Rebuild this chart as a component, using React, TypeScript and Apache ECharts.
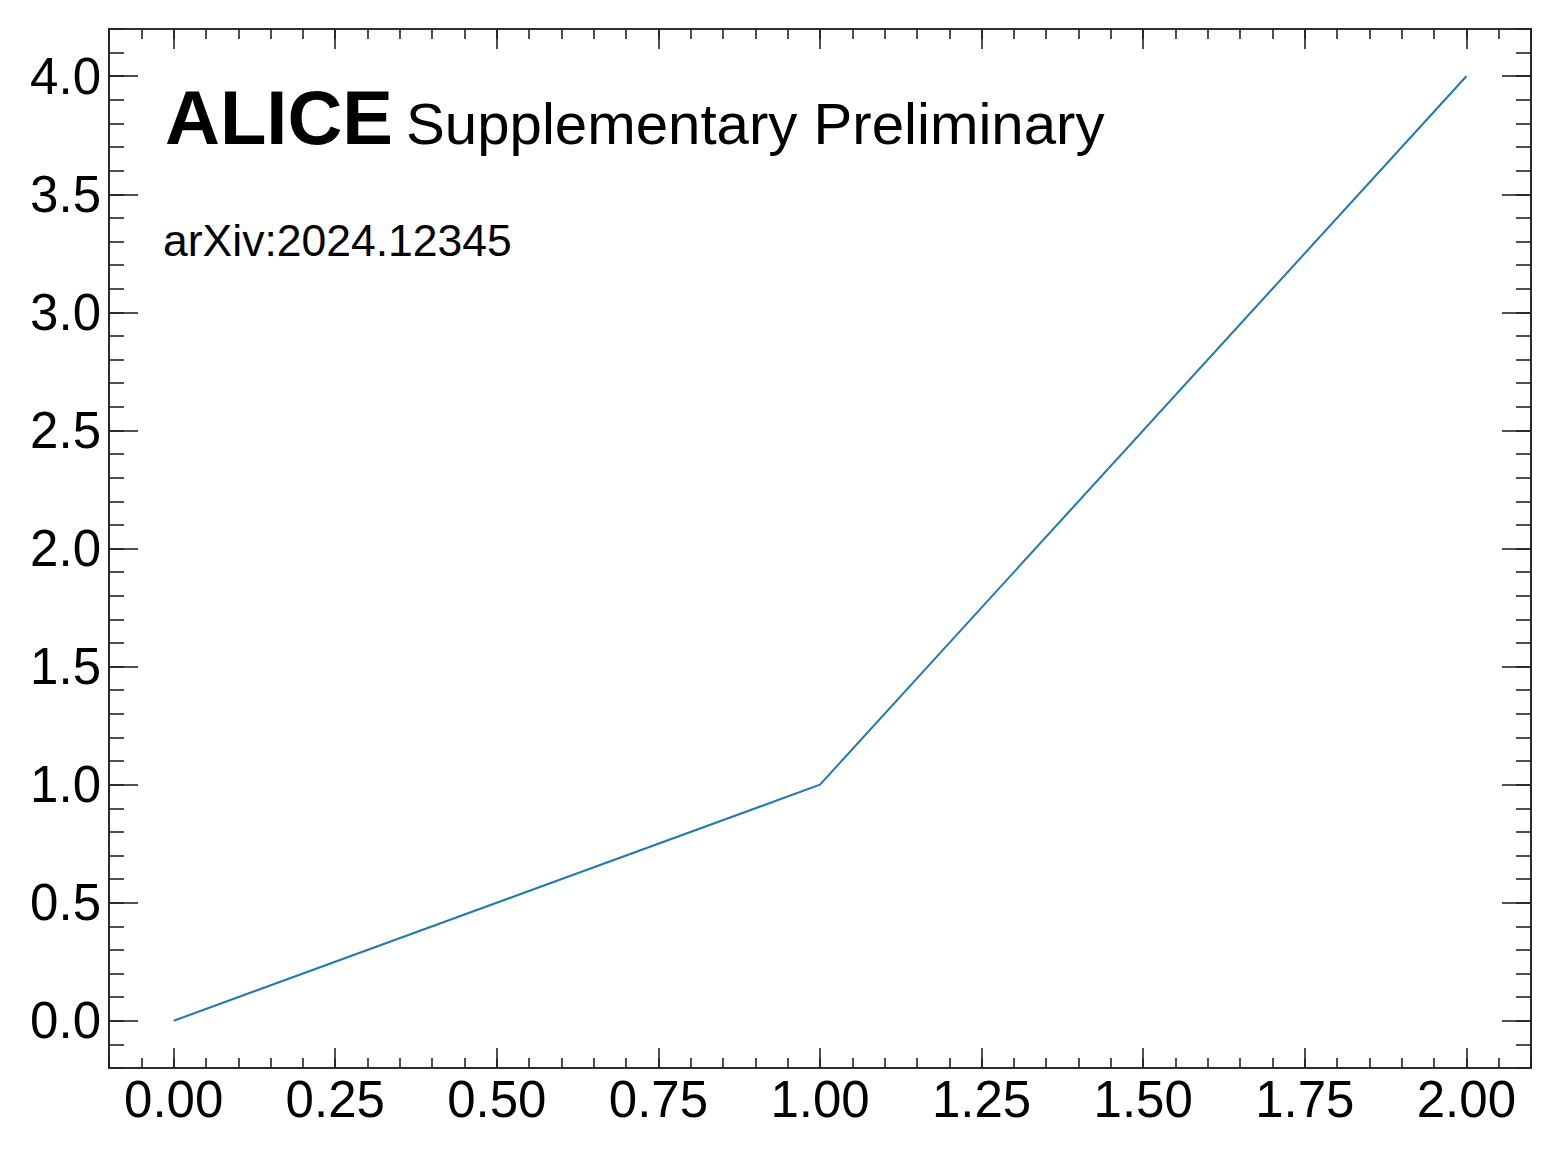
import React, { useEffect, useRef } from "react";
import * as echarts from "echarts";

const xValues = [0, 1, 2];
const yValues = [0, 1, 4];
const xMajorTicks = [0, 0.25, 0.5, 0.75, 1.0, 1.25, 1.5, 1.75, 2.0];
const yMajorTicks = [0, 0.5, 1.0, 1.5, 2.0, 2.5, 3.0, 3.5, 4.0];
const xRange = [-0.1, 2.1];
const yRange = [-0.2, 4.2];
const xMinorStep = 0.05;
const yMinorStep = 0.1;
const titleBold = "ALICE";
const titleRest = "Supplementary Preliminary";
const subtitle = "arXiv:2024.12345";

const FONT = "'Liberation Sans', Arial, Helvetica, sans-serif";
const AXIS_COLOR = "#222";

export default function App() {
  const ref = useRef<HTMLDivElement>(null);
  useEffect(() => {
    if (!ref.current) return;
    const chart = echarts.init(ref.current, undefined, { renderer: "svg" });
    const lineStyle = { color: AXIS_COLOR, width: 1.6 };
    const mkX = (pos: string, major: boolean, labels: boolean) => ({
      type: "value",
      min: xRange[0],
      max: xRange[1],
      position: pos,
      ...(major ? {} : { interval: xMinorStep }),
      axisLine: { show: true, onZero: false, lineStyle },
      axisTick: major
        ? { show: true, inside: true, length: 20, customValues: xMajorTicks, lineStyle }
        : { show: true, inside: true, length: 10, lineStyle },
      axisLabel: labels
        ? {
            show: true,
            customValues: xMajorTicks,
            formatter: (v: number) => v.toFixed(2),
            fontSize: 51,
            fontFamily: FONT,
            color: "#000",
            margin: 6,
          }
        : { show: false },
      splitLine: { show: false },
    });
    const mkY = (pos: string, major: boolean, labels: boolean) => ({
      type: "value",
      min: yRange[0],
      max: yRange[1],
      position: pos,
      ...(major ? {} : { interval: yMinorStep }),
      axisLine: { show: true, onZero: false, lineStyle },
      axisTick: major
        ? { show: true, inside: true, length: 29, customValues: yMajorTicks, lineStyle }
        : { show: true, inside: true, length: 15, lineStyle },
      axisLabel: labels
        ? {
            show: true,
            customValues: yMajorTicks,
            formatter: (v: number) => v.toFixed(1),
            fontSize: 51,
            fontFamily: FONT,
            color: "#000",
            margin: 8,
            padding: [9, 0, 0, 0],
          }
        : { show: false },
      splitLine: { show: false },
    });
    chart.setOption({
      animation: false,
      backgroundColor: "#fff",
      grid: { left: 109, right: 30, top: 29, bottom: 90, containLabel: false },
      xAxis: [
        mkX("bottom", true, true),
        mkX("bottom", false, false),
        mkX("top", true, false),
        mkX("top", false, false),
      ],
      yAxis: [
        mkY("left", true, true),
        mkY("left", false, false),
        mkY("right", true, false),
        mkY("right", false, false),
      ],
      series: [
        {
          type: "line",
          xAxisIndex: 0,
          yAxisIndex: 0,
          data: xValues.map((x, i) => [x, yValues[i]]),
          showSymbol: false,
          symbol: "none",
          lineStyle: { color: "#1f77b4", width: 2 },
          itemStyle: { color: "#1f77b4" },
        },
      ],
      graphic: [
        {
          type: "text",
          x: 165,
          y: 117,
          style: {
            text: titleBold,
            fontSize: 76,
            fontWeight: "bold",
            fontFamily: FONT,
            fill: "#000",
            align: "left",
            verticalAlign: "middle",
          },
        },
        {
          type: "text",
          x: 406,
          y: 123,
          style: {
            text: titleRest,
            fontSize: 58.2,
            fontFamily: FONT,
            fill: "#000",
            align: "left",
            verticalAlign: "middle",
          },
        },
        {
          type: "text",
          x: 163,
          y: 240,
          style: {
            text: subtitle,
            fontSize: 44.5,
            fontFamily: FONT,
            fill: "#000",
            align: "left",
            verticalAlign: "middle",
          },
        },
      ],
    });
    return () => chart.dispose();
  }, []);
  return (
    <div
      ref={ref}
      style={{ position: "fixed", left: 0, top: 0, width: 1561, height: 1158, background: "#fff" }}
    />
  );
}
